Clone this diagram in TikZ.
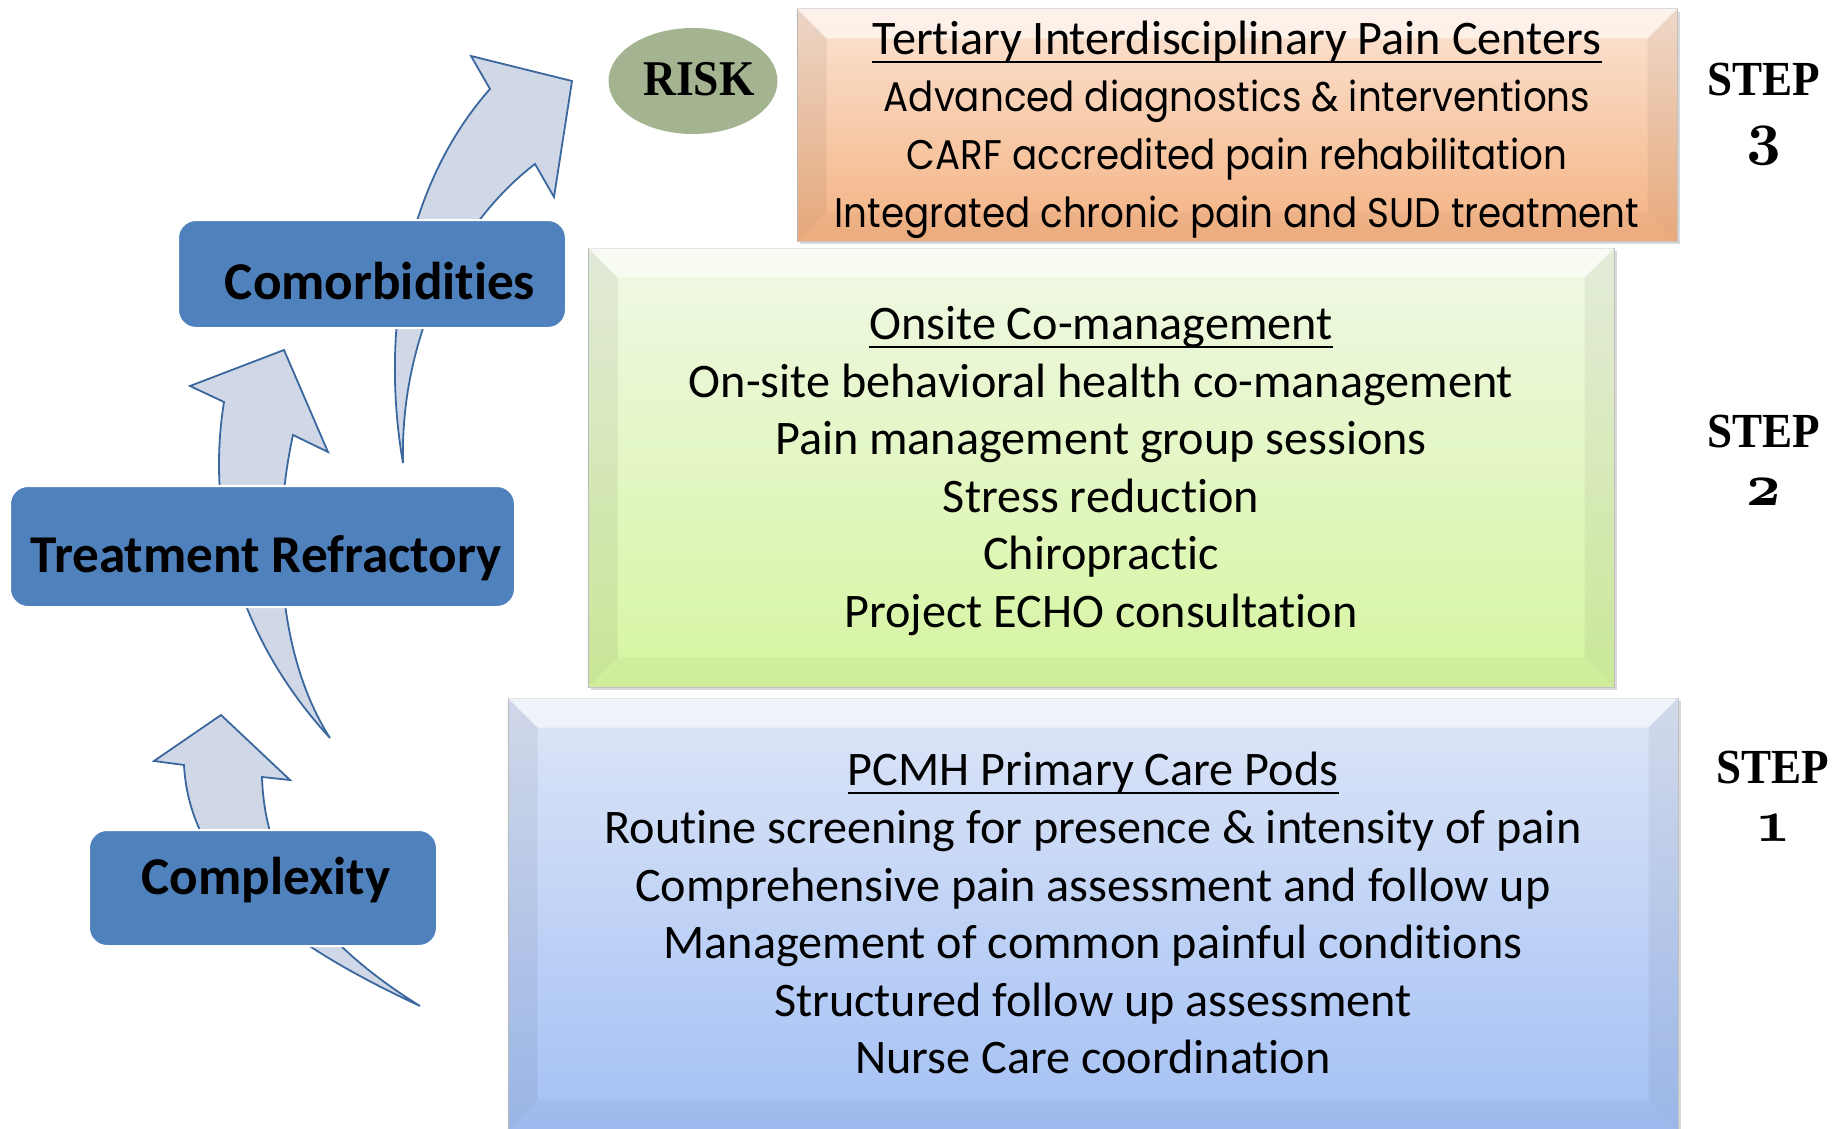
\documentclass[tikz,border=0pt]{standalone}
\usepackage{fontspec}
\setmainfont[Ligatures=NoCommon]{Carlito}
\newfontfamily\geo[FakeStretch=0.9]{Poppins}
\newfontfamily\serifb[FakeStretch=0.92]{Liberation Serif}
\newfontfamily\riskf[FakeStretch=0.91]{Liberation Serif}
\newfontfamily\oldnum[Numbers=OldStyle,BoldFont=lmroman10-bold.otf]{lmroman10-regular.otf}
\usetikzlibrary{shadows,calc,shapes.geometric}
\definecolor{boxblue}{RGB}{79,129,189}
\definecolor{arrfill}{RGB}{208,216,232}
\definecolor{arrline}{RGB}{58,104,158}
\definecolor{riskc}{RGB}{164,180,144}
\definecolor{ortop}{RGB}{251,228,212}
\definecolor{orbot}{RGB}{244,178,130}
\definecolor{grtop}{RGB}{240,248,230}
\definecolor{grbot}{RGB}{214,245,160}
\definecolor{bltop}{RGB}{222,230,247}
\definecolor{blbot}{RGB}{163,192,245}
\tikzset{
  arr/.style={fill=arrfill, draw=arrline, line width=0.9pt, line join=miter},
  rbox/.style={rounded corners=9pt, fill=boxblue, draw=white, line width=1pt, inner sep=0pt},
  rlabel/.style={font=\fontsize{26.6}{30}\selectfont\bfseries, inner sep=0pt, text height=17.1pt, text depth=0pt},
  bigbox/.style={draw=black!22, line width=0.5pt, inner sep=0pt,
     drop shadow={opacity=0.3, shadow xshift=1.5pt, shadow yshift=-1.5pt}},
  bodytxt/.style={font=\fontsize{24.1}{28}\selectfont, inner sep=0pt, text height=15.5pt, text depth=0pt},
  geotxt/.style={font=\geo\fontsize{20.7}{24}\selectfont, inner sep=0pt, text height=14.5pt, text depth=0pt},
  steptxt/.style={font=\serifb\fontsize{24.5}{28}\selectfont\bfseries, inner sep=0pt, text height=16.2pt, text depth=0pt},
  stepnum/.style={font=\oldnum\fontsize{30}{34}\selectfont\bfseries, inner sep=0pt},
  ul/.style={line width=1pt, black},
}
\newcommand{\bevel}[1]{%
  \fill[white, fill opacity=0.55] (#1.north west) -- (#1.north east) -- ($(#1.north east)+(-30,30)$) -- ($(#1.north west)+(30,30)$) -- cycle;
  \fill[black, fill opacity=0.06] (#1.north west) -- ($(#1.north west)+(30,30)$) -- ($(#1.south west)+(30,-30)$) -- (#1.south west) -- cycle;
  \fill[black, fill opacity=0.05] (#1.north east) -- ($(#1.north east)+(-30,30)$) -- ($(#1.south east)+(-30,-30)$) -- (#1.south east) -- cycle;
  \fill[black, fill opacity=0.03] (#1.south west) -- ($(#1.south west)+(30,-30)$) -- ($(#1.south east)+(-30,-30)$) -- (#1.south east) -- cycle;
}
\newcommand{\ulnode}[1]{\draw[ul] ($(#1.south west)+(0,7)$) -- ($(#1.south east)+(0,7)$);}
\begin{document}
\begin{tikzpicture}[x=0.5pt,y=-0.5pt]
\useasboundingbox (0,0) rectangle (1837,1129);

% ---- curved arrows ----
\draw[arr] (420,1006) .. controls (330,950) and (265,880) .. (262,777) -- (290,780) -- (221,715) -- (154,761) -- (184,765) .. controls (190,880) and (300,950) .. (420,1006) -- cycle;
\draw[arr] (330,738) .. controls (280,660) and (270,540) .. (293,435) -- (328,452) -- (284,350) -- (190,386) -- (224,402) .. controls (205,520) and (240,640) .. (330,738) -- cycle;
\draw[arr] (403,463) .. controls (400,340) and (455,225) .. (535,164) -- (554,197) -- (572,81) -- (471,56) -- (490,89) .. controls (405,185) and (380,330) .. (403,463) -- cycle;

% ---- left rounded boxes ----
\node[rbox, minimum width=194pt, minimum height=54pt] (comb) at (372,274) {};
\node[rlabel] (combt) at (380,282) {Comorbidities};
\node[rbox, minimum width=252.5pt, minimum height=60.5pt] (treat) at (262.5,546.5) {};
\node[rlabel] (treatt) at (266,555) {Treatment Refractory};
\node[rbox, minimum width=174pt, minimum height=58pt] (cplx) at (263,888) {};
\node[rlabel] (cplxt) at (266,877) {Complexity};

% ---- RISK ----
\node[ellipse, fill=riskc, minimum width=84.5pt, minimum height=53pt, inner sep=0pt] (risk) at (693,81) {};
\node[font=\riskf\fontsize{25}{30}\selectfont\bfseries, inner sep=0pt, text height=16.5pt, text depth=0pt] (riskt) at (699,79) {RISK};

% ---- big bevel boxes ----
\node[bigbox, minimum width=585pt, minimum height=216pt, top color=bltop, bottom color=blbot] (blue) at (1093,914) {};
\bevel{blue}
\node[bigbox, minimum width=513pt, minimum height=219.5pt, top color=grtop, bottom color=grbot] (green) at (1101,467.5) {};
\bevel{green}
\node[bigbox, minimum width=440pt, minimum height=116pt, top color=ortop, bottom color=orbot] (orange) at (1237,125) {};
\bevel{orange}

% ---- orange texts ----
\node[bodytxt] (o1) at (1237,39) {Tertiary Interdisciplinary Pain Centers};
\ulnode{o1}
\node[geotxt] (o2) at (1237,97) {Advanced diagnostics \& interventions};
\node[geotxt] (o3) at (1237,155) {CARF accredited pain rehabilitation};
\node[geotxt] (o4) at (1237,213) {Integrated chronic pain and SUD treatment};

% ---- green texts ----
\node[bodytxt] (g1) at (1101,324) {Onsite Co-management};
\ulnode{g1}
\node[bodytxt] (g2) at (1101,382) {On-site behavioral health co-management};
\node[bodytxt] (g3) at (1101,439) {Pain management group sessions};
\node[bodytxt] (g4) at (1101,497) {Stress reduction};
\node[bodytxt] (g5) at (1101,554) {Chiropractic};
\node[bodytxt] (g6) at (1101,612) {Project ECHO consultation};

% ---- blue texts ----
\node[bodytxt] (b1) at (1093,770) {PCMH Primary Care Pods};
\ulnode{b1}
\node[bodytxt] (b2) at (1093,828) {Routine screening for presence \& intensity of pain};
\node[bodytxt] (b3) at (1093,886) {Comprehensive pain assessment and follow up};
\node[bodytxt] (b4) at (1093,943) {Management of common painful conditions};
\node[bodytxt] (b5) at (1093,1001) {Structured follow up assessment};
\node[bodytxt] (b6) at (1093,1058) {Nurse Care coordination};

% ---- steps ----
\node[steptxt] (s3) at (1764,79) {STEP};
\node[stepnum] (n3) at (1764,146) {3};
\node[steptxt] (s2) at (1764,431) {STEP};
\node[stepnum] (n2) at (1764,492) {2};
\node[steptxt] (s1) at (1773,767) {STEP};
\node[stepnum] (n1) at (1773,828) {1};
\end{tikzpicture}
\end{document}
